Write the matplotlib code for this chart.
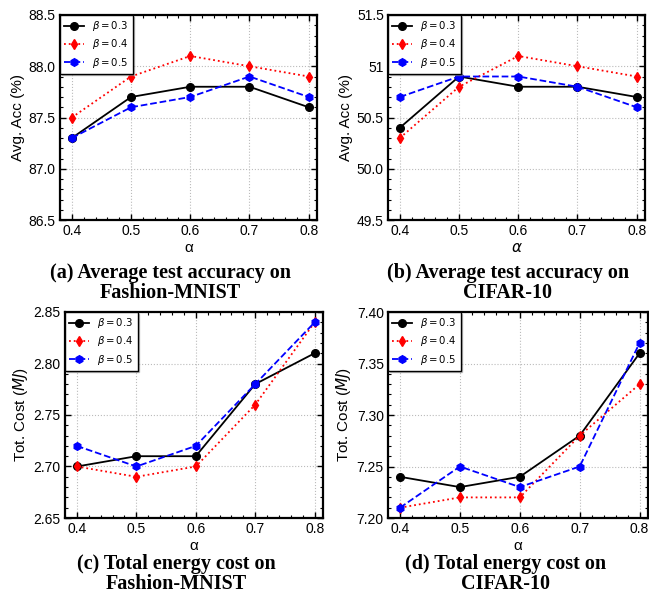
import matplotlib
matplotlib.use("Agg")
import matplotlib.pyplot as plt
from matplotlib.ticker import FixedLocator, FixedFormatter, AutoMinorLocator

plt.rcParams['font.family'] = ['Liberation Sans', 'DejaVu Sans']
plt.rcParams['mathtext.fontset'] = 'dejavusans'

alpha = [0.4, 0.5, 0.6, 0.7, 0.8]
betas = ["0.3", "0.4", "0.5"]

acc_fmnist_b03 = [87.3, 87.7, 87.8, 87.8, 87.6]
acc_fmnist_b04 = [87.5, 87.9, 88.1, 88.0, 87.9]
acc_fmnist_b05 = [87.3, 87.6, 87.7, 87.9, 87.7]

acc_cifar_b03 = [50.4, 50.9, 50.8, 50.8, 50.7]
acc_cifar_b04 = [50.3, 50.8, 51.1, 51.0, 50.9]
acc_cifar_b05 = [50.7, 50.9, 50.9, 50.8, 50.6]

cost_fmnist_b03 = [2.70, 2.71, 2.71, 2.78, 2.81]
cost_fmnist_b04 = [2.70, 2.69, 2.70, 2.76, 2.84]
cost_fmnist_b05 = [2.72, 2.70, 2.72, 2.78, 2.84]

cost_cifar_b03 = [7.24, 7.23, 7.24, 7.28, 7.36]
cost_cifar_b04 = [7.21, 7.22, 7.22, 7.28, 7.33]
cost_cifar_b05 = [7.21, 7.25, 7.23, 7.25, 7.37]

yticks_a = [86.5, 87.0, 87.5, 88.0, 88.5]
yticklabels_a = ["86.5", "87.0", "87.5", "88.0", "88.5"]
yticks_b = [49.5, 50.0, 50.5, 51.0, 51.5]
yticklabels_b = ["49.5", "50.0", "50.5", "51", "51.5"]
yticks_c = [2.65, 2.70, 2.75, 2.80, 2.85]
yticklabels_c = ["2.65", "2.70", "2.75", "2.80", "2.85"]
yticks_d = [7.20, 7.25, 7.30, 7.35, 7.40]
yticklabels_d = ["7.20", "7.25", "7.30", "7.35", "7.40"]

captions = ["(a) Average test accuracy on\nFashion-MNIST",
            "(b) Average test accuracy on\nCIFAR-10",
            "(c) Total energy cost on\nFashion-MNIST",
            "(d) Total energy cost on\nCIFAR-10"]
ylabels = ["Avg. Acc (%)", "Avg. Acc (%)", "Tot. Cost ($MJ$)", "Tot. Cost ($MJ$)"]

W, H = 649, 595
fig = plt.figure(figsize=(W / 100, H / 100), dpi=100)

def px_axes(l, t, r, b):
    return fig.add_axes([l / W, 1 - b / H, (r - l) / W, (b - t) / H])

boxes = [(60, 15, 317, 220), (388, 15, 645, 220), (65, 312, 323, 518), (388, 312, 648, 518)]
caption_pos = [(170, 283), (508, 283), (176, 574), (506, 574)]
data = [
    (acc_fmnist_b03, acc_fmnist_b04, acc_fmnist_b05, yticks_a, yticklabels_a),
    (acc_cifar_b03, acc_cifar_b04, acc_cifar_b05, yticks_b, yticklabels_b),
    (cost_fmnist_b03, cost_fmnist_b04, cost_fmnist_b05, yticks_c, yticklabels_c),
    (cost_cifar_b03, cost_cifar_b04, cost_cifar_b05, yticks_d, yticklabels_d),
]
styles = [
    dict(color="black", linestyle="-", marker="o"),
    dict(color="red", linestyle=":", marker="d"),
    dict(color="blue", linestyle="--", marker="h"),
]
xlabel_italic = [False, True, False, False]

for i, (box, d) in enumerate(zip(boxes, data)):
    ax = px_axes(*box)
    s03, s04, s05, yt, ytl = d
    for series, st, b in zip([s03, s04, s05], styles, betas):
        ax.plot(alpha, series, label=r"$\beta = %s$" % b, linewidth=1.3,
                markersize=5.5, **st)
    ax.set_xlim(0.38, 0.814)
    ax.set_ylim(yt[0], yt[-1])
    ax.yaxis.set_major_locator(FixedLocator(yt))
    ax.yaxis.set_major_formatter(FixedFormatter(ytl))
    ax.set_xticks(alpha)
    ax.set_xticklabels(["0.4", "0.5", "0.6", "0.7", "0.8"])
    ax.xaxis.set_minor_locator(AutoMinorLocator(5))
    ax.yaxis.set_minor_locator(AutoMinorLocator(5))
    ax.tick_params(which="both", direction="in", top=True, right=True)
    ax.tick_params(which="major", labelsize=10, width=1.0, length=4.5, pad=3)
    ax.tick_params(which="minor", width=0.8, length=2.2)
    ax.grid(True, which="major", linestyle=":", color="#bbbbbb", linewidth=0.8)
    for sp in ax.spines.values():
        sp.set_linewidth(1.6)
    ax.set_ylabel(ylabels[i], fontsize=11, labelpad=3)
    ax.set_xlabel(r"$\alpha$" if xlabel_italic[i] else "α", fontsize=11, labelpad=2)
    leg = ax.legend(loc="upper left", fontsize=7.3, frameon=True, fancybox=False,
                    edgecolor="black", framealpha=1, borderaxespad=0.0,
                    handlelength=2.0, borderpad=0.4, labelspacing=0.42,
                    handletextpad=0.8,
                    shadow={'ox': 1.2, 'oy': -1.2, 'shade': 0.45})
    leg.get_frame().set_linewidth(1.0)
    cx, cy = caption_pos[i]
    fig.text(cx / W, 1 - cy / H, captions[i], ha="center", va="center",
             fontsize=14.5, fontweight="bold", family="Liberation Serif",
             linespacing=1.05)

fig.savefig("out.png", dpi=100)
